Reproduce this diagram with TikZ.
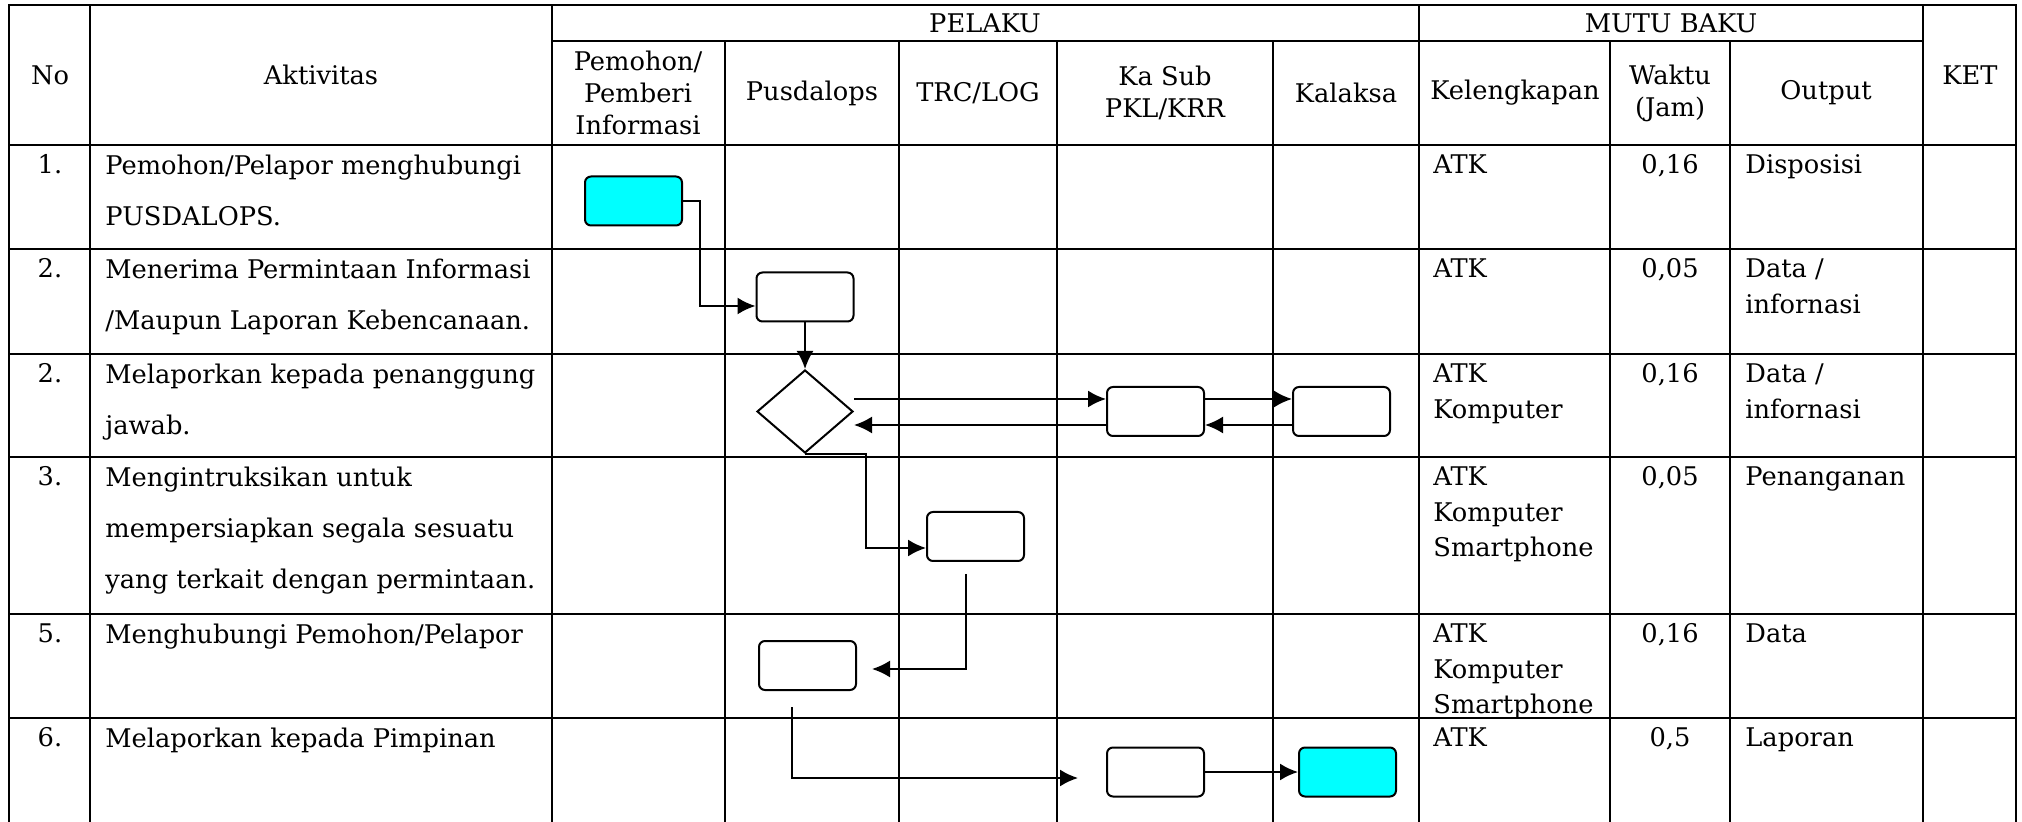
\documentclass[tikz,border=0pt]{standalone}
\usepackage{fontspec}
\setmainfont{DejaVu Serif}
\usepackage{tikz}
\definecolor{aqua}{rgb}{0,1,1}
\usetikzlibrary{arrows.meta, positioning, shapes.geometric}
\tikzstyle{grid} = [line width=0.65pt, line cap=rect]
\tikzstyle{proc} = [draw, line width=1pt, rectangle, rounded corners=3pt, minimum height=24.5pt, minimum width=48.5pt, inner sep=0pt]
\tikzstyle{term} = [proc, fill=aqua]
\tikzstyle{decision} = [draw, line width=1pt, diamond, minimum height=41.5pt, minimum width=48pt, inner sep=0pt]
\tikzstyle{arrow} = [->, line width=1pt, black]
\tikzstyle{head} = [align=center, font=\fontsize{12.85pt}{16pt}\selectfont]
\tikzstyle{cell} = [anchor=north west, align=left, inner sep=0pt, font=\fontsize{12.85pt}{17.75pt}\selectfont]
\tikzstyle{act} = [cell, font=\fontsize{12.85pt}{25.5pt}\selectfont]
\tikzstyle{num} = [cell, anchor=north, align=center]

\begin{document}
\begin{tikzpicture}[x=0.5pt, y=-0.5pt, >={Latex[length=9pt,width=8.5pt]}]
    \useasboundingbox (0,0) rectangle (2022,822);

    % Table lines
    \draw [grid] (9,5) -- (2016,5);
    \draw [grid] (552,41) -- (1923,41);
    \draw [grid] (9,145) -- (2016,145);
    \draw [grid] (9,249) -- (2016,249);
    \draw [grid] (9,354) -- (2016,354);
    \draw [grid] (9,457) -- (2016,457);
    \draw [grid] (9,614) -- (2016,614);
    \draw [grid] (9,718) -- (2016,718);
    \draw [grid] (9,5) -- (9,822);
    \draw [grid] (90,5) -- (90,822);
    \draw [grid] (552,5) -- (552,822);
    \draw [grid] (725,41) -- (725,822);
    \draw [grid] (899,41) -- (899,822);
    \draw [grid] (1057,41) -- (1057,822);
    \draw [grid] (1273,41) -- (1273,822);
    \draw [grid] (1419,5) -- (1419,822);
    \draw [grid] (1610,41) -- (1610,822);
    \draw [grid] (1730,41) -- (1730,822);
    \draw [grid] (1923,5) -- (1923,822);
    \draw [grid] (2016,5) -- (2016,822);

    % Header
    \node [head] (hNo) at (50,75) {No};
    \node [head] (hAkt) at (321,75) {Aktivitas};
    \node [head] (hPelaku) at (985,23) {PELAKU};
    \node [head] (hMutu) at (1671,23) {MUTU BAKU};
    \node [head] (hKet) at (1970,75) {KET};
    \node [head] (hPemohon) at (638,93) {Pemohon/\\Pemberi\\Informasi};
    \node [head] (hPusdalops) at (812,93) {Pusdalops};
    \node [head] (hTrc) at (978,93) {TRC/LOG};
    \node [head] (hKasub) at (1165,93) {Ka Sub\\PKL/KRR};
    \node [head] (hKalaksa) at (1346,93) {Kalaksa};
    \node [head] (hKel) at (1515,93) {Kelengkapan};
    \node [head] (hWaktu) at (1670,93) {Waktu\\(Jam)};
    \node [head] (hOutput) at (1826,93) {Output};

    % Rows
    \node [num] (r1no) at (50,154.5) {1.};
    \node [act] (r1akt) at (105,154.5) {Pemohon/Pelapor menghubungi\\PUSDALOPS.};
    \node [cell] (r1kel) at (1433,154.5) {ATK};
    \node [num] (r1wak) at (1670,154.5) {0,16};
    \node [cell] (r1out) at (1745,154.5) {Disposisi};

    \node [num] (r2no) at (50,258.5) {2.};
    \node [act] (r2akt) at (105,258.5) {Menerima Permintaan Informasi\\/Maupun Laporan Kebencanaan.};
    \node [cell] (r2kel) at (1433,258.5) {ATK};
    \node [num] (r2wak) at (1670,258.5) {0,05};
    \node [cell] (r2out) at (1745,258.5) {Data /\\infornasi};

    \node [num] (r3no) at (50,363.5) {2.};
    \node [act] (r3akt) at (105,363.5) {Melaporkan kepada penanggung\\jawab.};
    \node [cell] (r3kel) at (1433,363.5) {ATK\\Komputer};
    \node [num] (r3wak) at (1670,363.5) {0,16};
    \node [cell] (r3out) at (1745,363.5) {Data /\\infornasi};

    \node [num] (r4no) at (50,466.5) {3.};
    \node [act] (r4akt) at (105,466.5) {Mengintruksikan untuk\\mempersiapkan segala sesuatu\\yang terkait dengan permintaan.};
    \node [cell] (r4kel) at (1433,466.5) {ATK\\Komputer\\Smartphone};
    \node [num] (r4wak) at (1670,466.5) {0,05};
    \node [cell] (r4out) at (1745,466.5) {Penanganan};

    \node [num] (r5no) at (50,623.5) {5.};
    \node [act] (r5akt) at (105,623.5) {Menghubungi Pemohon/Pelapor};
    \node [cell] (r5kel) at (1433,623.5) {ATK\\Komputer\\Smartphone};
    \node [num] (r5wak) at (1670,623.5) {0,16};
    \node [cell] (r5out) at (1745,623.5) {Data};

    \node [num] (r6no) at (50,727.5) {6.};
    \node [act] (r6akt) at (105,727.5) {Melaporkan kepada Pimpinan};
    \node [cell] (r6kel) at (1433,727.5) {ATK};
    \node [num] (r6wak) at (1670,727.5) {0,5};
    \node [cell] (r6out) at (1745,727.5) {Laporan};

    % Place the blocks
    \node [term] (start) at (633.5,201) {};
    \node [proc] (terima) at (805,297) {};
    \node [decision] (lapor) at (805,411.5) {};
    \node [proc] (kasub) at (1155.5,411.5) {};
    \node [proc, right=43.5pt of kasub] (kalaksa) {};
    \node [proc] (trc) at (975.5,536.5) {};
    \node [proc] (hubungi) at (807.5,665.5) {};
    \node [proc] (pimpinan) at (1155.5,772) {};
    \node [term, right=46.5pt of pimpinan] (selesai) {};

    % Connect the nodes
    \draw [arrow] (start.east) -- ++(17,0) |- ([yshift=-4.5pt]terima.west);
    \draw [arrow] (terima) -- (lapor);
    \draw [arrow] ([yshift=6.25pt]lapor.east) -- ([yshift=6.25pt]kasub.west);
    \draw [arrow] ([yshift=6.25pt]kasub.east) -- ([yshift=6.25pt]kalaksa.west);
    \draw [arrow] ([yshift=-6.75pt]kalaksa.west) -- ([yshift=-6.75pt]kasub.east);
    \draw [arrow] ([yshift=-6.75pt]kasub.west) -- ([yshift=-6.75pt]lapor.east);
    \draw [arrow] (lapor.south) -- ++(61,0) |- ([yshift=-5.75pt]trc.west);
    \draw [arrow] ([xshift=-4.75pt, yshift=-6pt]trc.south) |- ([xshift=7.5pt, yshift=-1.75pt]hubungi.east);
    \draw [arrow] ([xshift=-7.75pt, yshift=-8pt]hubungi.south) |- ([xshift=-14pt, yshift=-3pt]pimpinan.west);
    \draw [arrow] (pimpinan) -- (selesai);
\end{tikzpicture}
\end{document}
